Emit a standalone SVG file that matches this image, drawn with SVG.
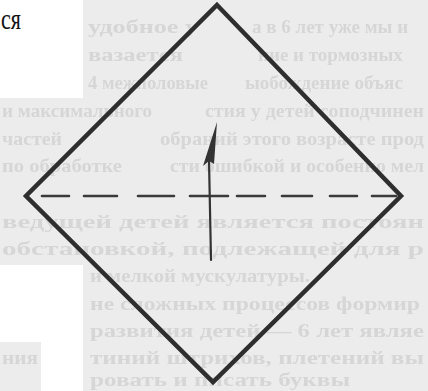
<svg xmlns="http://www.w3.org/2000/svg" width="428" height="391" viewBox="0 0 428 391">
  <defs>
    <style>
      .bg { fill: #ececec; }
      .white { fill: #ffffff; }
      .ghost { font-family: "Liberation Serif", "DejaVu Serif", serif; font-size: 19px; font-weight: bold; fill: #d6d6d6; }
      .edge { fill: none; stroke: #2e2e2e; stroke-width: 4.5; stroke-linecap: round; stroke-linejoin: miter; }
      .fold { fill: none; stroke: #3a3a3a; stroke-width: 2.6; stroke-linecap: round; }
      .label { font-family: "Liberation Serif", "DejaVu Serif", serif; font-size: 22px; fill: #111111; }
    </style>
    <filter id="soft" x="-5%" y="-20%" width="110%" height="140%">
      <feGaussianBlur stdDeviation="0.6"/>
    </filter>
  </defs>

  <!-- paper background with show-through from the reverse page -->
  <rect class="bg" x="0" y="0" width="428" height="391"/>
  <g class="ghost" filter="url(#soft)">
    <text x="88" y="33" textLength="110" lengthAdjust="spacingAndGlyphs">удобное у</text>
    <text x="252" y="33">а в 6 лет уже мы и</text>
    <text x="88" y="61" textLength="95" lengthAdjust="spacingAndGlyphs">вазается</text>
    <text x="258" y="61">ние и тормозных</text>
    <text x="88" y="89" textLength="120" lengthAdjust="spacingAndGlyphs">4 межполовые</text>
    <text x="245" y="89">ыобождение объяс</text>
    <text x="2" y="117" textLength="150" lengthAdjust="spacingAndGlyphs">и максимального</text>
    <text x="205" y="117" textLength="219" lengthAdjust="spacingAndGlyphs">стия у детей соподчинен</text>
    <text x="2" y="145" textLength="60" lengthAdjust="spacingAndGlyphs">частей</text>
    <text x="160" y="145" textLength="264" lengthAdjust="spacingAndGlyphs">обраний этого возрасте прод</text>
    <text x="2" y="172" textLength="120" lengthAdjust="spacingAndGlyphs">по обработке</text>
    <text x="170" y="172" textLength="254" lengthAdjust="spacingAndGlyphs">сти ошибкой и особенно мел</text>
    <text x="2" y="228" textLength="422" lengthAdjust="spacingAndGlyphs">ведущей детей является постоян</text>
    <text x="2" y="255" textLength="422" lengthAdjust="spacingAndGlyphs">обстановкой, подлежащей для р</text>
    <text x="90" y="282" textLength="220" lengthAdjust="spacingAndGlyphs">и мелкой мускулатуры.</text>
    <text x="90" y="310" textLength="330" lengthAdjust="spacingAndGlyphs">не сложных процессов формир</text>
    <text x="90" y="337" textLength="334" lengthAdjust="spacingAndGlyphs">развития детей — 6 лет являе</text>
    <text x="2" y="364" textLength="36" lengthAdjust="spacingAndGlyphs">ния</text>
    <text x="90" y="364" textLength="334" lengthAdjust="spacingAndGlyphs">тиний штрихов, плетений вы</text>
    <text x="90" y="386" textLength="260" lengthAdjust="spacingAndGlyphs">ровать и писать буквы</text>
  </g>
  <rect class="white" x="0" y="0" width="83" height="98"/>
  <rect class="white" x="0" y="265" width="83" height="77"/>
  <rect class="white" x="41" y="342" width="42" height="49"/>

  <!-- leftover text from previous column -->
  <g id="caption">
    <text class="label" x="1" y="21.5" transform="scale(1,1.35)">ся</text>
  </g>

  <!-- square sheet (diamond) -->
  <g id="sheet">
    <polygon class="edge" points="217,5 401,196 213,382 26,196"/>
  </g>

  <!-- fold line and direction arrow -->
  <g id="connectors">
    <path class="fold" d="M42,196 H69 M84,196 H117 M138,196 H174 M190,196 H228 M237,196 H265 M282,196 H312 M330,196 H357 M372,196 H396"/>
    <path fill="none" stroke="#333333" stroke-width="2.2" stroke-linecap="round" d="M209,160 Q210,210 211,260"/>
    <polygon fill="#333333" points="217,122 203,166 209,161 214,164"/>
  </g>
</svg>
